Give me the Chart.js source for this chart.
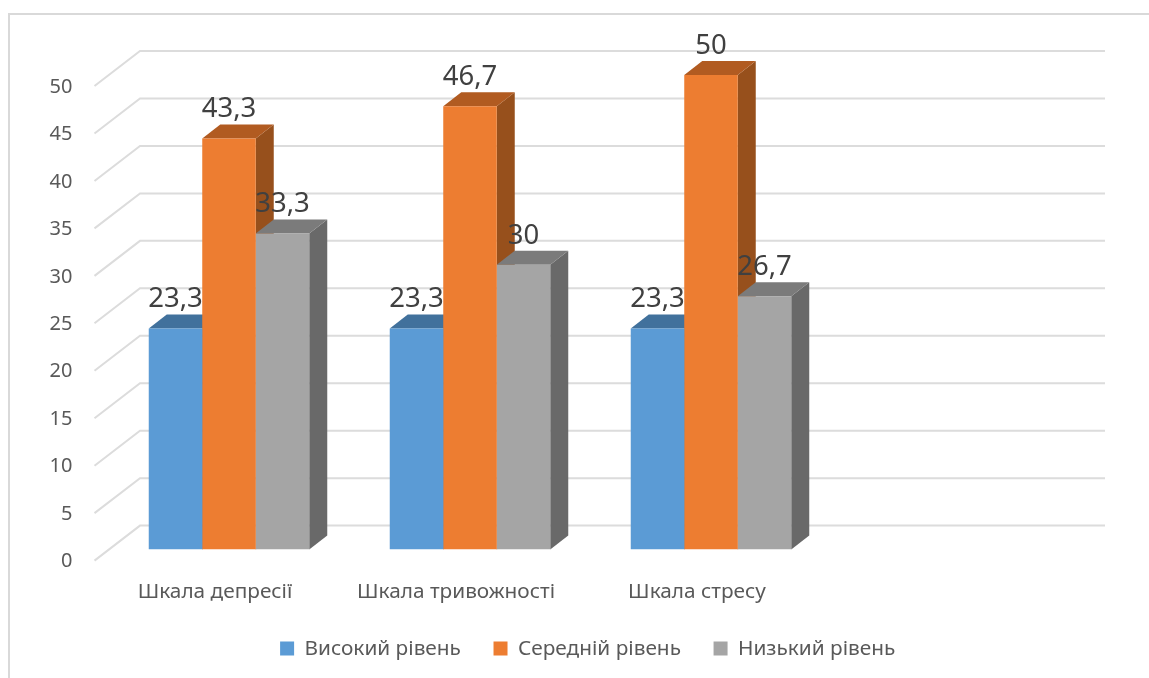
<!DOCTYPE html>
<html>
<head>
<meta charset="utf-8">
<title>Шкали</title>
<script src="https://cdn.jsdelivr.net/npm/chart.js@4/dist/chart.umd.min.js"></script>
<style>
html, body { margin: 0; padding: 0; background: #fff; overflow: hidden; }
#frame { position: absolute; left: 8px; top: 13px; right: 0; bottom: 0; border-left: 2px solid #d9d9d9; border-top: 2px solid #d9d9d9; }
#chart { position: absolute; left: 0; top: 0; }
</style>
</head>
<body>
<div id="frame"></div>
<canvas id="chart" width="1149" height="678"></canvas>
<script>
var categories = ['Шкала депресії', 'Шкала тривожності', 'Шкала стресу', ''];
var highLevel = [23.3, 23.3, 23.3];
var middleLevel = [43.3, 46.7, 50];
var lowLevel = [33.3, 30, 26.7];

var fontName = '"Noto Sans", sans-serif';
var gridColor = '#dcdcdc';
var barDepth = { x: 18, y: 14 };
var wallShift = { x: 31.5, y: 24 };
var frontShift = { x: -14, y: 11 };
var legendShift = 31.5;
var shades = [
    { top: '#41719c', side: '#37608a' },
    { top: '#b15b21', side: '#97501c' },
    { top: '#7b7b7b', side: '#696969' }
];

function polygon(ctx, pts, color) {
    ctx.fillStyle = color;
    ctx.beginPath();
    pts.forEach(function (p, i) { i ? ctx.lineTo(p[0], p[1]) : ctx.moveTo(p[0], p[1]); });
    ctx.closePath();
    ctx.fill();
}

// legend in the original is centred on the whole picture, not on the plot
var legendPlugin = {
    id: 'legendShift',
    afterLayout: function (chart) {
        chart.legend.left += legendShift;
        chart.legend.right += legendShift;
    }
};

// back wall lines and the slanted lines on the left wall
var wallPlugin = {
    id: 'wall',
    beforeDatasetsDraw: function (chart) {
        var ctx = chart.ctx, area = chart.chartArea, y = chart.scales.y;
        ctx.save();
        ctx.strokeStyle = gridColor;
        ctx.lineWidth = 2;
        y.ticks.forEach(function (tick) {
            var py = y.getPixelForValue(tick.value);
            ctx.beginPath();
            ctx.moveTo(area.left + frontShift.x, py + frontShift.y);
            ctx.lineTo(area.left + wallShift.x, py - wallShift.y);
            ctx.lineTo(area.right + wallShift.x + 1, py - wallShift.y);
            ctx.stroke();
        });
        ctx.restore();
    }
};

// side and top faces, the fronts are the normal bars drawn after this
var depthPlugin = {
    id: 'depth',
    beforeDatasetsDraw: function (chart) {
        var ctx = chart.ctx;
        ctx.save();
        chart.data.datasets.forEach(function (ds, i) {
            chart.getDatasetMeta(i).data.forEach(function (bar) {
                var p = bar.getProps(['x', 'y', 'base', 'width']);
                var l = p.x - p.width / 2, r = p.x + p.width / 2;
                polygon(ctx, [[r, p.y], [r + barDepth.x, p.y - barDepth.y], [r + barDepth.x, p.base - barDepth.y], [r, p.base]], shades[i].side);
                polygon(ctx, [[l, p.y], [l + barDepth.x, p.y - barDepth.y], [r + barDepth.x, p.y - barDepth.y], [r, p.y]], shades[i].top);
            });
        });
        ctx.restore();
    }
};

var valueLabelPlugin = {
    id: 'valueLabels',
    afterDatasetsDraw: function (chart) {
        var ctx = chart.ctx;
        ctx.save();
        ctx.font = '27.5px ' + fontName;
        ctx.fillStyle = '#404040';
        ctx.textAlign = 'center';
        ctx.textBaseline = 'middle';
        chart.data.datasets.forEach(function (ds, i) {
            chart.getDatasetMeta(i).data.forEach(function (bar, j) {
                ctx.fillText(String(ds.data[j]).replace('.', ','), bar.x, bar.y - 29);
            });
        });
        ctx.restore();
    }
};

new Chart(document.getElementById('chart').getContext('2d'), {
    type: 'bar',
    data: {
        labels: categories,
        datasets: [
            { label: 'Високий рівень', data: highLevel, backgroundColor: '#5b9bd5' },
            { label: 'Середній рівень', data: middleLevel, backgroundColor: '#ed7d31' },
            { label: 'Низький рівень', data: lowLevel, backgroundColor: '#a5a5a5' }
        ]
    },
    options: {
        responsive: false,
        animation: false,
        layout: { padding: { left: 40, right: 76.5, top: 75, bottom: 9 } },
        datasets: { bar: { barPercentage: 1, categoryPercentage: 0.666 } },
        scales: {
            x: {
                grid: { display: false, drawTicks: false },
                border: { display: false },
                afterFit: function (scale) { scale.height = 56; },
                ticks: {
                    color: '#595959',
                    font: { family: fontName, size: 20.8 },
                    padding: 30,
                    labelOffset: frontShift.x,
                    maxRotation: 0,
                    autoSkip: false
                }
            },
            y: {
                min: 0,
                max: 50,
                grid: { display: false, drawTicks: false },
                border: { display: false },
                afterFit: function (scale) { scale.width = 68.5; },
                ticks: {
                    stepSize: 5,
                    color: '#595959',
                    font: { family: fontName, size: 20 },
                    padding: 36,
                    labelOffset: 12
                }
            }
        },
        plugins: {
            legend: {
                position: 'bottom',
                labels: {
                    boxWidth: 14,
                    boxHeight: 14,
                    padding: 32.6,
                    color: '#595959',
                    font: { family: fontName, size: 20.8 }
                }
            },
            tooltip: { enabled: false }
        }
    },
    plugins: [legendPlugin, wallPlugin, depthPlugin, valueLabelPlugin]
});
</script>
</body>
</html>
